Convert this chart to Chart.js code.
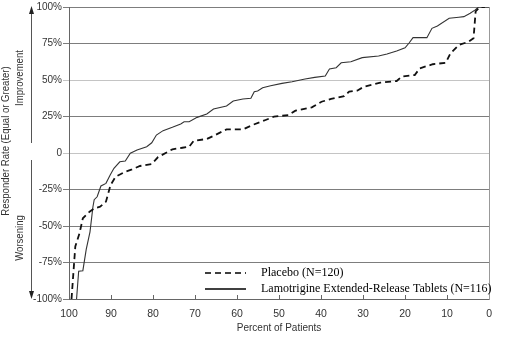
<!DOCTYPE html>
<html>
<head>
<meta charset="utf-8">
<script src="https://cdn.jsdelivr.net/npm/chart.js@4.4.1/dist/chart.umd.min.js"></script>
<style>
  body { margin: 0; background: #fff; }
</style>
</head>
<body>
<canvas id="responder" width="505" height="340"></canvas>
<script>
// percent of patients (x) and responder rate (y)
var placeboX = [99.4, 98.5, 97.5, 96.7, 95.1, 94.0, 92.6, 91.2, 90.1, 88.9, 86.6, 85.0, 83.1, 80.3, 78.8, 75.4,
  73.0, 71.4, 70.3, 67.2, 65.2, 62.5, 58.6, 56.3, 53.2, 51.2, 47.7, 46.1, 42.2, 39.9, 37.6, 34.5, 33.3, 31.4,
  29.8, 25.9, 22.0, 20.8, 17.7, 16.5, 13.4, 10.3, 9.2, 7.2, 4.9, 3.7, 3.2, 2.2, 1.0];
var placeboY = [-100, -64, -55, -44.7, -40.2, -37.9, -36.8, -33.3, -21.9, -16.2, -12.8, -11.2, -8.9, -7.5, -2.8, 2.5,
  3.6, 4.3, 8.4, 9.6, 12.3, 16.2, 16.2, 19.2, 22.6, 24.9, 26.0, 29.0, 31.3, 35.1, 37.0, 39.0, 42.0, 42.7,
  45.4, 48.2, 49.3, 52.3, 53.4, 58.0, 60.8, 61.8, 68.3, 74.0, 76.2, 78.6, 97, 100, 100];

var lamoX = [98.2, 97.7, 96.7, 95.9, 95.0, 94.3, 94.0, 93.3, 92.4, 91.2, 90.2, 89.3, 87.9, 86.6, 85.4, 83.8,
  81.5, 80.3, 79.2, 77.6, 75.4, 73.4, 72.6, 71.4, 69.5, 67.2, 65.6, 62.5, 60.9, 58.6, 56.7, 55.9, 55.1, 53.9,
  52.0, 49.3, 46.9, 43.8, 41.5, 39.0, 38.0, 36.4, 35.2, 32.9, 30.2, 26.3, 24.3, 22.0, 20.0, 19.0, 18.1, 14.8,
  13.6, 12.3, 9.5, 7.2, 6.0, 4.5, 3.3, 2.5, 0];
var lamoY = [-100, -81, -80.6, -66, -54, -36.8, -32, -30, -22.6, -20.8, -15, -10.5, -6, -5.5, -0.2, 2,
  4.3, 7, 12.3, 15.3, 17.6, 19.9, 21.4, 21.4, 24.4, 26.7, 30.1, 32.2, 35.6, 37, 37.5, 42, 42.5, 44.7,
  46.1, 47.7, 48.8, 50.7, 51.8, 52.7, 57.5, 58.4, 61.8, 62.5, 65.3, 66.4, 67.8, 69.9, 72.1, 75.5, 79, 79,
  85.4, 87, 92.3, 93, 93.4, 95.7, 98, 100, 100];

var seriesNames = ["Placebo (N=120)", "Lamotrigine Extended-Release Tablets (N=116)"];
var xTicks = [100, 90, 80, 70, 60, 50, 40, 30, 20, 10, 0];
var yTicks = [-100, -75, -50, -25, 0, 25, 50, 75, 100];

function pts(xs, ys) {
  return xs.map(function (x, i) { return { x: x, y: ys[i] }; });
}

var sans = "'Liberation Sans', Arial, sans-serif";

// side labels, arrows and legend drawn on the canvas
var sideText = {
  id: "sideText",
  afterDraw: function (chart) {
    var ctx = chart.ctx;
    ctx.save();
    ctx.fillStyle = "#333";
    ctx.font = "11px " + sans;
    ctx.textAlign = "center";
    ctx.textBaseline = "middle";
    [["Responder Rate (Equal or Greater)", 5.5, 141], ["Improvement", 20, 78], ["Worsening", 20, 238]].forEach(function (t) {
      ctx.save();
      ctx.translate(t[1], t[2]);
      ctx.rotate(-Math.PI / 2);
      ctx.scale(0.87, 1); // narrow face
      ctx.fillText(t[0], 0, 0);
      ctx.restore();
    });

    ctx.strokeStyle = "#555";
    ctx.fillStyle = "#222";
    ctx.lineWidth = 1;
    ctx.beginPath();
    ctx.moveTo(31.5, 12); ctx.lineTo(31.5, 143);
    ctx.moveTo(31.5, 160); ctx.lineTo(31.5, 293);
    ctx.stroke();
    ctx.beginPath();
    ctx.moveTo(31.5, 6); ctx.lineTo(29, 14); ctx.lineTo(34, 14); ctx.closePath();
    ctx.moveTo(31.5, 299); ctx.lineTo(29, 291); ctx.lineTo(34, 291); ctx.closePath();
    ctx.fill();

    // legend
    var area = chart.chartArea;
    ctx.font = "12px 'Liberation Serif', 'Times New Roman', serif";
    ctx.textAlign = "left";
    chart.data.datasets.forEach(function (ds, i) {
      var y = area.bottom - 26 + i * 16;
      ctx.strokeStyle = "#000";
      ctx.lineWidth = 1.3;
      ctx.setLineDash(ds.borderDash || []);
      ctx.beginPath();
      ctx.moveTo(205, y);
      ctx.lineTo(246, y);
      ctx.stroke();
      ctx.setLineDash([]);
      ctx.fillStyle = "#000";
      ctx.fillText(ds.label, 261, y);
    });
    ctx.restore();
  }
};

new Chart("responder", {
  type: "line",
  data: {
    datasets: [
      {
        label: seriesNames[0],
        data: pts(placeboX, placeboY),
        borderColor: "#111",
        borderWidth: 1.8,
        borderDash: [6, 4],
        pointRadius: 0,
        tension: 0,
      },
      {
        label: seriesNames[1],
        data: pts(lamoX, lamoY),
        borderColor: "#333",
        borderWidth: 1.1,
        pointRadius: 0,
        tension: 0,
      },
    ],
  },
  options: {
    responsive: false,
    animation: false,
    layout: { padding: { top: 7, left: 0, right: 0, bottom: 0 } },
    plugins: {
      legend: { display: false },
      tooltip: { enabled: false },
    },
    scales: {
      x: {
        type: "linear",
        reverse: true,
        min: 0,
        max: 100,
        afterBuildTicks: function (scale) {
          scale.ticks = xTicks.map(function (v) { return { value: v }; });
        },
        afterFit: function (scale) { scale.height = 41; },
        grid: { drawOnChartArea: false, tickLength: -4, color: "#666" },
        border: { color: "#666" },
        ticks: { padding: 13, color: "#333", font: { family: sans, size: 10.5 } },
        title: {
          display: true,
          text: "Percent of Patients",
          color: "#333",
          font: { family: sans, size: 10 },
          padding: { top: 0, bottom: 6 },
        },
      },
      y: {
        min: -100,
        max: 100,
        afterBuildTicks: function (scale) {
          scale.ticks = yTicks.map(function (v) { return { value: v }; });
        },
        afterFit: function (scale) { scale.width = 69; },
        grid: {
          tickLength: 6,
          color: function (c) {
            return c.tick && (c.tick.value === 0 || c.tick.value === 50) ? "#c4c4c4" : "#7d7d7d";
          },
        },
        border: { color: "#666" },
        ticks: {
          padding: 1,
          color: "#333",
          font: { family: sans, size: 10 },
          callback: function (v) { return v === 0 ? "0" : v + "%"; },
        },
      },
      y2: {
        position: "right",
        min: -100,
        max: 100,
        afterFit: function (scale) { scale.width = 7; },
        grid: { display: false },
        border: { color: "#999" },
        ticks: { display: false },
      },
    },
  },
  plugins: [sideText],
});
</script>
</body>
</html>
